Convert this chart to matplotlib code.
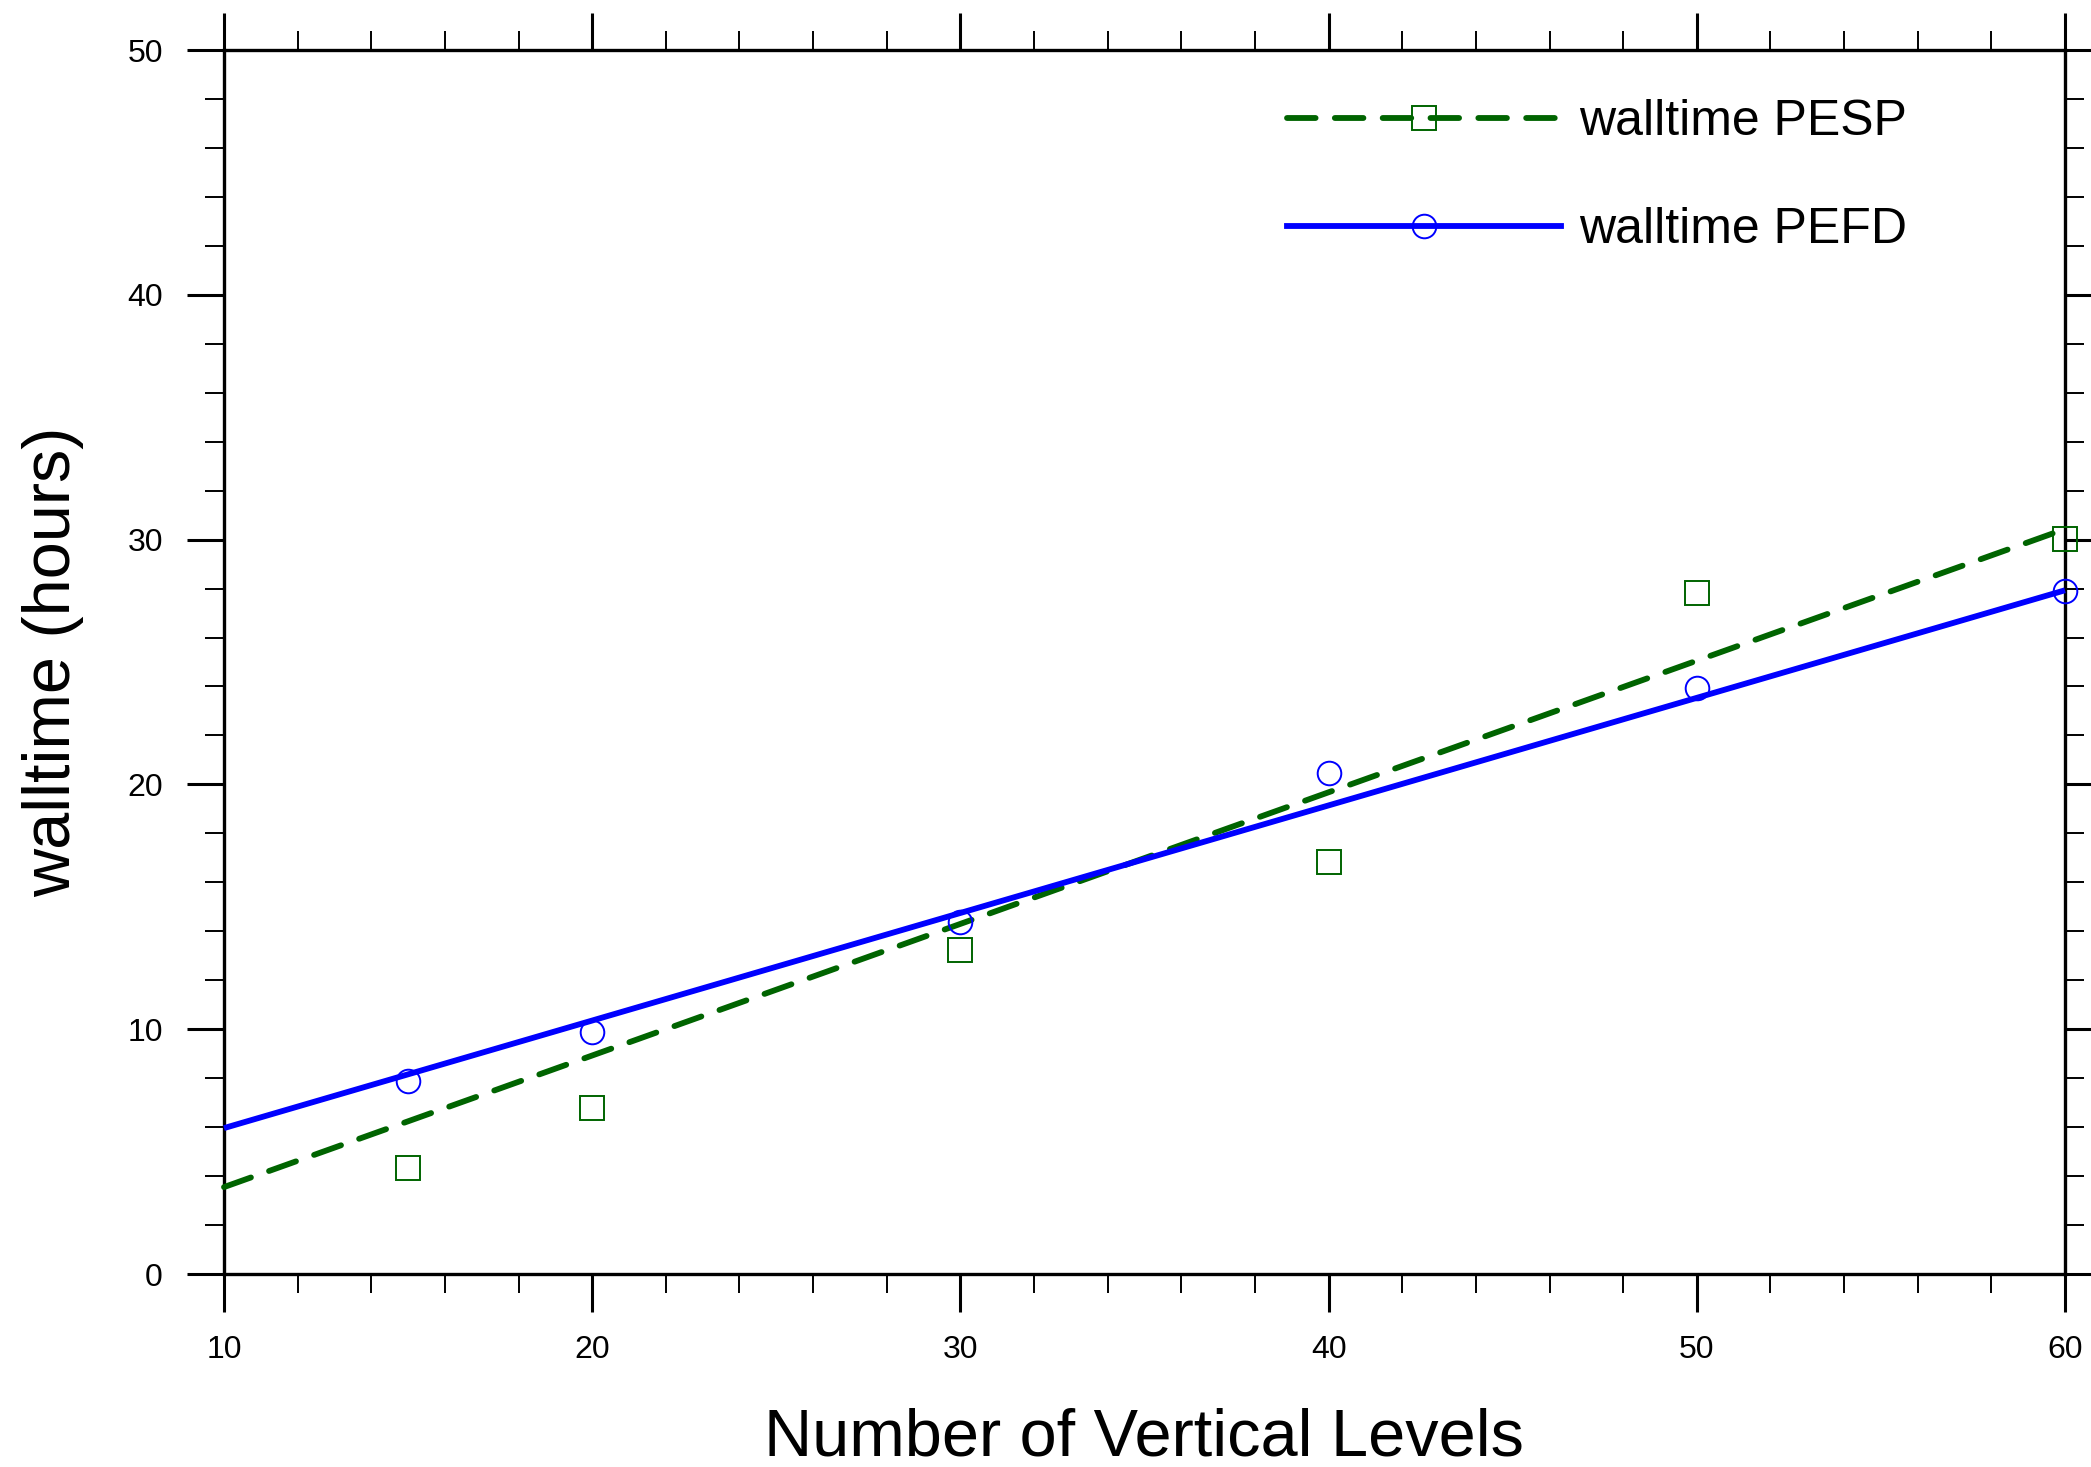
import matplotlib
matplotlib.use("Agg")
import matplotlib.pyplot as plt
from matplotlib.ticker import MultipleLocator
from matplotlib.lines import Line2D

plt.rcParams['font.family'] = ['Liberation Sans', 'DejaVu Sans']

# measured walltimes per number of vertical levels
levels = [15, 20, 30, 40, 50, 60]
walltime_pesp = [4.32, 6.79, 13.24, 16.82, 27.8, 30.02]
walltime_pefd = [7.88, 9.90, 14.37, 20.45, 23.94, 27.9]

# straight-line trends over the plotted range
trend_levels = [10, 60]
trend_pesp = [3.55, 30.43]
trend_pefd = [5.96, 27.93]

x_ticks = [10, 20, 30, 40, 50, 60]
y_ticks = [0, 10, 20, 30, 40, 50]
series_labels = ['walltime PESP', 'walltime PEFD']

DPI = 100
fig = plt.figure(figsize=(2091 / DPI, 1467 / DPI), dpi=DPI)
ax = fig.add_axes([224 / 2091, 1 - 1274 / 1467, (2065 - 224) / 2091, (1274 - 50) / 1467])

green = '#006400'
blue = '#0000ff'
LW = 4.2
DASH = (4.9, 3.3)

# trend lines
ax.plot(trend_levels, trend_pesp, color=green, lw=LW, dashes=DASH,
        dash_capstyle='round', zorder=3, clip_on=False)
ax.plot(trend_levels, trend_pefd, color=blue, lw=LW, solid_capstyle='butt',
        zorder=3, clip_on=False)

# measured points
ax.plot(levels, walltime_pesp, ls='none', marker='s', ms=17, mfc='none',
        mec=green, mew=1.4, zorder=4, clip_on=False)
ax.plot(levels, walltime_pefd, ls='none', marker='o', ms=17, mfc='none',
        mec=blue, mew=1.4, zorder=4, clip_on=False)

# legend entries (line + marker combined)
h_pesp = Line2D([], [], color=green, lw=LW, dashes=DASH, dash_capstyle='round',
                marker='s', ms=17, mfc='none', mec=green, mew=1.4)
h_pefd = Line2D([], [], color=blue, lw=LW, marker='o', ms=17, mfc='none',
                mec=blue, mew=1.4)
ax.legend([h_pesp, h_pefd], series_labels,
          loc='upper left', bbox_to_anchor=(1287 / 2091, 1 - 99 / 1467),
          bbox_transform=fig.transFigure, frameon=False, fontsize=36,
          handlelength=5.48, handletextpad=0.36, labelspacing=1.24,
          borderpad=0, borderaxespad=0, numpoints=1)

ax.set_xlim(10, 60)
ax.set_ylim(0, 50)
ax.set_xticks(x_ticks)
ax.set_yticks(y_ticks)
ax.xaxis.set_minor_locator(MultipleLocator(2))
ax.yaxis.set_minor_locator(MultipleLocator(2))

for s in ax.spines.values():
    s.set_linewidth(2.4)

ax.tick_params(which='major', direction='out', length=27, width=2.2,
               top=True, right=True, labelsize=23, pad=17)
ax.tick_params(which='minor', direction='out', length=14, width=1.4,
               top=True, right=True)
ax.tick_params(axis='y', which='major', pad=17)

fig.text(1144 / 2091, 1 - 1456 / 1467, 'Number of Vertical Levels',
         ha='center', va='baseline', fontsize=48)
fig.text(53 / 2091, 1 - 662 / 1467, 'walltime (hours)', rotation=90,
         ha='center', va='center', fontsize=48)

fig.savefig('out.png', dpi=DPI)
